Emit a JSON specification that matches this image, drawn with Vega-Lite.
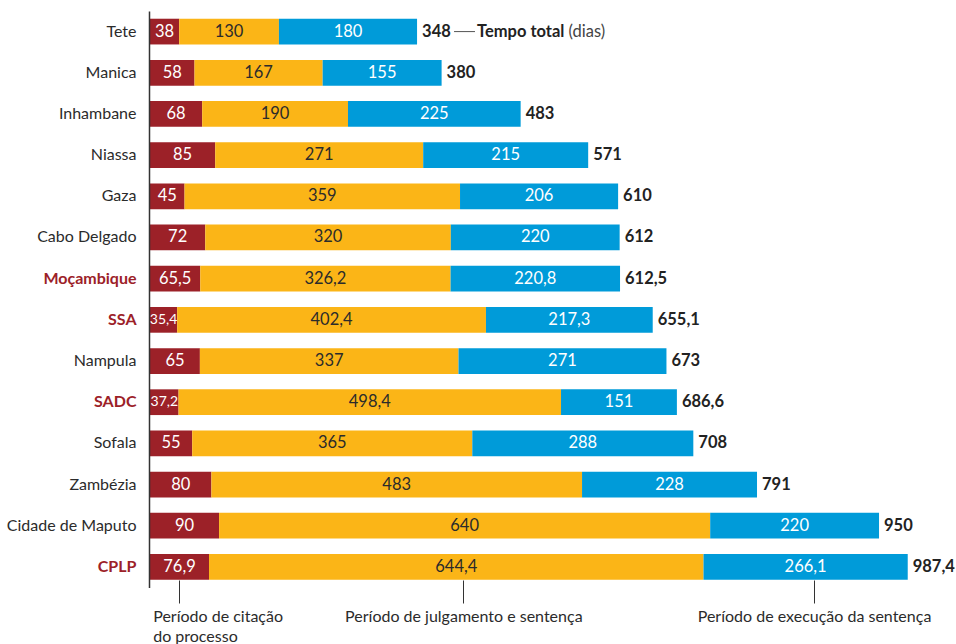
{
  "$schema": "https://vega.github.io/schema/vega-lite/v6.json",
  "width": 767.4,
  "height": 576.5,
  "autosize": "none",
  "padding": {"left": 150, "top": 11, "right": 38.6, "bottom": 56.5},
  "background": "white",
  "config": {
    "view": {"stroke": null},
    "font": "Lato",
    "locale": {
      "number": {"decimal": ",", "thousands": ".", "grouping": [3], "currency": ["", ""]}
    }
  },
  "datasets": {
    "segments": [
      {"region": "Tete", "period": "citacao", "step": 1, "value": 38},
      {"region": "Tete", "period": "julgamento", "step": 2, "value": 130},
      {"region": "Tete", "period": "execucao", "step": 3, "value": 180},
      {"region": "Manica", "period": "citacao", "step": 1, "value": 58},
      {"region": "Manica", "period": "julgamento", "step": 2, "value": 167},
      {"region": "Manica", "period": "execucao", "step": 3, "value": 155},
      {"region": "Inhambane", "period": "citacao", "step": 1, "value": 68},
      {"region": "Inhambane", "period": "julgamento", "step": 2, "value": 190},
      {"region": "Inhambane", "period": "execucao", "step": 3, "value": 225},
      {"region": "Niassa", "period": "citacao", "step": 1, "value": 85},
      {"region": "Niassa", "period": "julgamento", "step": 2, "value": 271},
      {"region": "Niassa", "period": "execucao", "step": 3, "value": 215},
      {"region": "Gaza", "period": "citacao", "step": 1, "value": 45},
      {"region": "Gaza", "period": "julgamento", "step": 2, "value": 359},
      {"region": "Gaza", "period": "execucao", "step": 3, "value": 206},
      {"region": "Cabo Delgado", "period": "citacao", "step": 1, "value": 72},
      {"region": "Cabo Delgado", "period": "julgamento", "step": 2, "value": 320},
      {"region": "Cabo Delgado", "period": "execucao", "step": 3, "value": 220},
      {"region": "Moçambique", "period": "citacao", "step": 1, "value": 65.5},
      {"region": "Moçambique", "period": "julgamento", "step": 2, "value": 326.2},
      {"region": "Moçambique", "period": "execucao", "step": 3, "value": 220.8},
      {"region": "SSA", "period": "citacao", "step": 1, "value": 35.4},
      {"region": "SSA", "period": "julgamento", "step": 2, "value": 402.4},
      {"region": "SSA", "period": "execucao", "step": 3, "value": 217.3},
      {"region": "Nampula", "period": "citacao", "step": 1, "value": 65},
      {"region": "Nampula", "period": "julgamento", "step": 2, "value": 337},
      {"region": "Nampula", "period": "execucao", "step": 3, "value": 271},
      {"region": "SADC", "period": "citacao", "step": 1, "value": 37.2},
      {"region": "SADC", "period": "julgamento", "step": 2, "value": 498.4},
      {"region": "SADC", "period": "execucao", "step": 3, "value": 151},
      {"region": "Sofala", "period": "citacao", "step": 1, "value": 55},
      {"region": "Sofala", "period": "julgamento", "step": 2, "value": 365},
      {"region": "Sofala", "period": "execucao", "step": 3, "value": 288},
      {"region": "Zambézia", "period": "citacao", "step": 1, "value": 80},
      {"region": "Zambézia", "period": "julgamento", "step": 2, "value": 483},
      {"region": "Zambézia", "period": "execucao", "step": 3, "value": 228},
      {"region": "Cidade de Maputo", "period": "citacao", "step": 1, "value": 90},
      {"region": "Cidade de Maputo", "period": "julgamento", "step": 2, "value": 640},
      {"region": "Cidade de Maputo", "period": "execucao", "step": 3, "value": 220},
      {"region": "CPLP", "period": "citacao", "step": 1, "value": 76.9},
      {"region": "CPLP", "period": "julgamento", "step": 2, "value": 644.4},
      {"region": "CPLP", "period": "execucao", "step": 3, "value": 266.1}
    ],
    "notes": [
      {"region": "Tete", "kind": "line", "from": 396.2, "to": 423.5},
      {"region": "Tete", "kind": "bold", "from": 426.1, "text": "Tempo total"},
      {"region": "Tete", "kind": "plain", "from": 545.5, "text": "(dias)"}
    ]
  },
  "layer": [
    {
      "data": {"name": "segments"},
      "transform": [
        {"stack": "value", "groupby": ["region"], "sort": [{"field": "step"}], "as": ["x0", "x1"]}
      ],
      "mark": {"type": "bar"},
      "encoding": {
        "y": {
          "field": "region",
          "type": "nominal",
          "scale": {
            "domain": ["Tete", "Manica", "Inhambane", "Niassa", "Gaza", "Cabo Delgado", "Moçambique", "SSA", "Nampula", "SADC", "Sofala", "Zambézia", "Cidade de Maputo", "CPLP"],
            "paddingInner": 0.375,
            "paddingOuter": 0.1875
          },
          "axis": {
            "title": null,
            "ticks": false,
            "domain": true,
            "domainColor": "#333333",
            "domainWidth": 1.5,
            "offset": 1,
            "zindex": 1,
            "labelFontSize": 16,
            "labelPadding": 13,
            "labelLimit": 0,
            "labelFont": "Lato",
            "labelColor": {"condition": {"test": "indexof(['Moçambique','SSA','SADC','CPLP'], datum.value) >= 0", "value": "#9c2128"}, "value": "#2b2b2b"},
            "labelFontWeight": {"condition": {"test": "indexof(['Moçambique','SSA','SADC','CPLP'], datum.value) >= 0", "value": "bold"}, "value": "normal"}
          }
        },
        "x": {
          "field": "x0",
          "type": "quantitative",
          "scale": {"domain": [0, 1000], "nice": false, "zero": true},
          "axis": {
            "title": null,
            "values": [37.8, 408.3, 865.3],
            "domain": false,
            "grid": false,
            "offset": -7.5,
            "tickSize": 23,
            "tickColor": "#333333",
            "tickWidth": 1,
            "labelFlush": false,
            "labelOverlap": false,
            "labelLimit": 0,
            "labelFontSize": 16,
            "labelColor": "#2b2b2b",
            "labelFont": "Lato",
            "labelLineHeight": 20,
            "labelPadding": 5,
            "labelExpr": "datum.value < 100 ? ['Período de citação', 'do processo'] : datum.value < 600 ? 'Período de julgamento e sentença' : 'Período de execução da sentença'",
            "labelAlign": {"condition": {"test": "datum.value < 100", "value": "left"}, "value": "center"},
            "labelOffset": {"condition": {"test": "datum.value < 100", "value": -26.3}, "value": 0}
          }
        },
        "x2": {"field": "x1"},
        "color": {
          "field": "period",
          "type": "nominal",
          "scale": {"domain": ["citacao", "julgamento", "execucao"], "range": ["#9c2128", "#fbb517", "#009bd9"]},
          "legend": null
        }
      }
    },
    {
      "data": {"name": "segments"},
      "transform": [
        {"stack": "value", "groupby": ["region"], "sort": [{"field": "step"}], "as": ["x0", "x1"]},
        {"fold": ["x0", "x1"], "as": ["edge", "pos"]},
        {"aggregate": [{"op": "mean", "field": "pos", "as": "mid"}], "groupby": ["region", "period", "value"]}
      ],
      "mark": {"type": "text", "align": "center", "baseline": "middle", "fontSize": 16.5, "font": "Lato"},
      "encoding": {
        "y": {"field": "region", "type": "nominal"},
        "x": {"field": "mid", "type": "quantitative"},
        "text": {"field": "value", "type": "quantitative", "format": ".1~f"},
        "size": {"condition": {"test": "datum.value < 40 && datum.value != round(datum.value)", "value": 14}, "value": 16.5},
        "color": {"condition": {"test": "datum.period == 'julgamento'", "value": "#2b2b2b"}, "value": "#ffffff"}
      }
    },
    {
      "data": {"name": "segments"},
      "transform": [
        {"aggregate": [{"op": "sum", "field": "value", "as": "total"}], "groupby": ["region"]}
      ],
      "mark": {"type": "text", "align": "left", "baseline": "middle", "dx": 5, "fontSize": 16.5, "font": "Lato", "fontWeight": "bold", "color": "#222222"},
      "encoding": {
        "y": {"field": "region", "type": "nominal"},
        "x": {"field": "total", "type": "quantitative"},
        "text": {"field": "total", "type": "quantitative", "format": ".1~f"}
      }
    },
    {
      "data": {"name": "notes"},
      "transform": [{"filter": "datum.kind == 'line'"}],
      "mark": {"type": "rule", "color": "#555555", "strokeWidth": 1},
      "encoding": {
        "y": {"field": "region", "type": "nominal"},
        "x": {"field": "from", "type": "quantitative"},
        "x2": {"field": "to"}
      }
    },
    {
      "data": {"name": "notes"},
      "transform": [{"filter": "datum.kind == 'bold'"}],
      "mark": {"type": "text", "align": "left", "baseline": "middle", "fontSize": 16.5, "font": "Lato", "fontWeight": "bold", "color": "#222222"},
      "encoding": {
        "y": {"field": "region", "type": "nominal"},
        "x": {"field": "from", "type": "quantitative"},
        "text": {"field": "text"}
      }
    },
    {
      "data": {"name": "notes"},
      "transform": [{"filter": "datum.kind == 'plain'"}],
      "mark": {"type": "text", "align": "left", "baseline": "middle", "fontSize": 16.5, "font": "Lato", "color": "#444444"},
      "encoding": {
        "y": {"field": "region", "type": "nominal"},
        "x": {"field": "from", "type": "quantitative"},
        "text": {"field": "text"}
      }
    }
  ]
}
